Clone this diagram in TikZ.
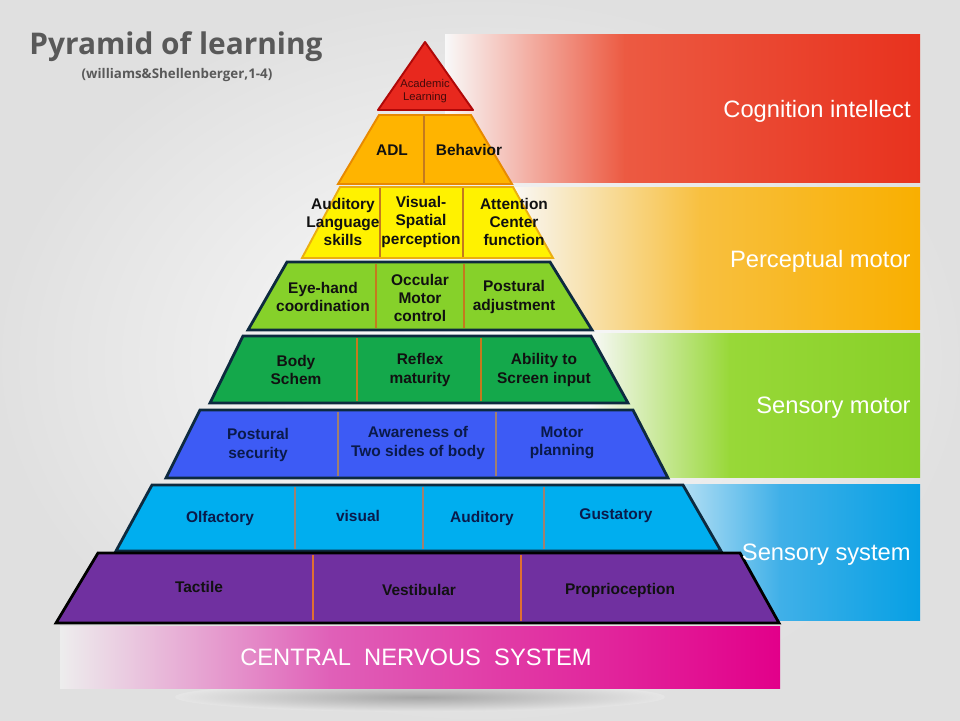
\documentclass[tikz,border=0pt]{standalone}
\usepackage{fontspec}
\setmainfont{Liberation Sans}
\newfontfamily\titlefont{Open Sans}
\usepackage{tikz}
\usetikzlibrary{positioning}
\definecolor{redL}{HTML}{E8281E}
\definecolor{redE}{HTML}{B00808}
\definecolor{orgL}{HTML}{FFB400}
\definecolor{orgE}{HTML}{E88A00}
\definecolor{yelL}{HTML}{FFF200}
\definecolor{yelE}{HTML}{EBAE10}
\definecolor{lgrL}{HTML}{86D12A}
\definecolor{dgrL}{HTML}{14A84B}
\definecolor{bluL}{HTML}{3D5BF5}
\definecolor{cyaL}{HTML}{00AEEF}
\definecolor{purL}{HTML}{7030A0}
\definecolor{edge}{HTML}{0D2A3F}
\definecolor{divO}{HTML}{C47A1E}
\definecolor{divB}{HTML}{A08070}
\definecolor{divP}{HTML}{E07030}
\definecolor{ink}{HTML}{111111}
\definecolor{navy}{HTML}{0A1A4A}
\definecolor{ttl}{HTML}{595959}

\begin{document}
\begin{tikzpicture}[x=0.02cm, y=-0.02cm,
  lay/.style={line width=1.6pt, draw=edge, line join=miter},
  sep/.style={line width=0.6pt, draw=divO},
  cell/.style={font=\bfseries\fontsize{8.8}{10.3}\selectfont, align=center,
               text=ink, inner sep=0pt},
  bandtxt/.style={text=white, font=\fontsize{13.5}{15}\selectfont,
                  anchor=base east, inner sep=0pt}]
  \useasboundingbox (0,0) rectangle (960,720);
  \shade[inner color=gray!2, outer color=gray!24] (0,0) rectangle (960,720);

  % side bands
  \fill[left color=gray!5, right color={rgb,255:red,236;green,90;blue,66}] (445,34) rectangle (625,182);
  \fill[left color={rgb,255:red,236;green,90;blue,66}, right color={rgb,255:red,232;green,50;blue,30}] (624,34) rectangle (920,182);
  \fill[left color=gray!5, right color={rgb,255:red,248;green,192;blue,64}] (510,187) rectangle (700,329);
  \fill[left color={rgb,255:red,248;green,192;blue,64}, right color={rgb,255:red,249;green,175;blue,0}] (699,187) rectangle (920,329);
  \fill[left color=gray!5, right color={rgb,255:red,152;green,216;blue,56}] (590,333) rectangle (730,477);
  \fill[left color={rgb,255:red,152;green,216;blue,56}, right color={rgb,255:red,136;green,208;blue,40}] (729,333) rectangle (920,477);
  \fill[left color={rgb,255:red,216;green,238;blue,248}, right color={rgb,255:red,64;green,176;blue,232}] (650,484) rectangle (780,620);
  \fill[left color={rgb,255:red,64;green,176;blue,232}, right color={rgb,255:red,6;green,160;blue,228}] (779,484) rectangle (920,620);

  % base
  \shade[inner color=gray!70, outer color=gray!20] (420,697) ellipse (245 and 15);
  \fill[left color=gray!14, right color={rgb,255:red,224;green,96;blue,184}] (60,626) rectangle (330,688);
  \fill[left color={rgb,255:red,224;green,96;blue,184}, right color={rgb,255:red,226;green,0;blue,138}] (329,626) rectangle (780,688);

  % pyramid layers
  \filldraw[fill=redL, draw=redE, line width=1.1pt, line join=round] (425,42) -- (473,110) -- (378,110) -- cycle;
  \filldraw[fill=orgL, draw=orgE, line width=1.1pt] (379,115) -- (471,115) -- (512,184) -- (338,184) -- cycle;
  \filldraw[fill=yelL, draw=yelE, line width=1.1pt] (340,187) -- (513,187) -- (553,258) -- (302,258) -- cycle;
  \filldraw[lay, fill=lgrL] (287,262) -- (550,262) -- (592,330) -- (248,330) -- cycle;
  \filldraw[lay, fill=dgrL] (243,336) -- (591,336) -- (628,403) -- (210,403) -- cycle;
  \filldraw[lay, fill=bluL] (200,410) -- (633,410) -- (668,478) -- (166,478) -- cycle;
  \filldraw[lay, fill=cyaL] (152,485) -- (683,485) -- (721,551) -- (116,551) -- cycle;
  \filldraw[lay, fill=purL, draw=black] (98,553) -- (740,553) -- (779,623) -- (56,623) -- cycle;

  % dividers
  \draw[sep] (424,116) -- (424,183);
  \draw[sep] (380,188) -- (380,257);
  \draw[sep] (463,188) -- (463,257);
  \draw[sep] (376,264) -- (376,328);
  \draw[sep] (464,264) -- (464,328);
  \draw[sep] (357,338) -- (357,401);
  \draw[sep] (481,338) -- (481,401);
  \draw[sep, draw=divB] (338,412) -- (338,476);
  \draw[sep, draw=divB] (496,412) -- (496,476);
  \draw[sep, draw=divB] (295,487) -- (295,549);
  \draw[sep, draw=divB] (423,487) -- (423,549);
  \draw[sep, draw=divB] (544,487) -- (544,549);
  \draw[sep, draw=divP] (313,555) -- (313,620);
  \draw[sep, draw=divP] (521,555) -- (521,621);

  % cell texts
  \node[cell, font=\fontsize{6.4}{7.4}\selectfont, text={rgb,255:red,70;green,10;blue,10}] (acad) at (425,91) {Academic\\Learning};
  \node[cell] (adl) at (392,150) {ADL};
  \node[cell] (behav) at (469,150) {Behavior};
  \node[cell] (audl) at (343,222) {Auditory\\Language\\skills};
  \node[cell] (vissp) at (421,222) {Visual-\\Spatial\\perception};
  \node[cell] (attn) at (514,222) {Attention\\Center\\function};
  \node[cell] (eyeh) at (323,297) {Eye-hand\\coordination};
  \node[cell] (occ) at (420,298) {Occular\\Motor\\control};
  \node[cell] (padj) at (514,297) {Postural\\adjustment};
  \node[cell] (body) at (296,370) {Body\\Schem};
  \node[cell] (refl) at (420,370) {Reflex\\maturity};
  \node[cell] (scr) at (544,370) {Ability to\\Screen input};
  \node[cell, text=navy] (psec) at (258,445) {Postural\\security};
  \node[cell, text=navy] (aware) at (418,443) {Awareness of\\Two sides of body};
  \node[cell, text=navy] (mplan) at (562,443) {Motor\\planning};
  \node[cell, text=navy] (olf) at (220,518) {Olfactory};
  \node[cell, text=navy] (vis) at (358,516) {visual};
  \node[cell, text=navy] (aud) at (482,518) {Auditory};
  \node[cell, text=navy] (gust) at (616,516) {Gustatory};
  \node[cell] (tact) at (199,587) {Tactile};
  \node[cell] (vest) at (419,590) {Vestibular};
  \node[cell] (prop) at (620,590) {Proprioception};

  % band labels
  \node[bandtxt] (cogn) at (911,117) {Cognition intellect};
  \node[bandtxt] (perc) at (911,267) {Perceptual motor};
  \node[bandtxt] (smot) at (911,413) {Sensory motor};
  \node[bandtxt] (ssys) at (911,560) {Sensory system};
  \node[text=white, font=\fontsize{13.5}{15}\selectfont, inner sep=0pt] (cns) at (416,657) {CENTRAL\ \ NERVOUS\ \ SYSTEM};

  % title
  \node[text=ttl, font=\titlefont\bfseries\fontsize{17}{20}\selectfont, inner sep=0pt] (title) at (176,47) {Pyramid of learning};
  \node[text=ttl, font=\titlefont\bfseries\fontsize{7.6}{9}\selectfont, inner sep=0pt] (sub) at (177,75) {(williams\&Shellenberger,1-4)};
\end{tikzpicture}
\end{document}
